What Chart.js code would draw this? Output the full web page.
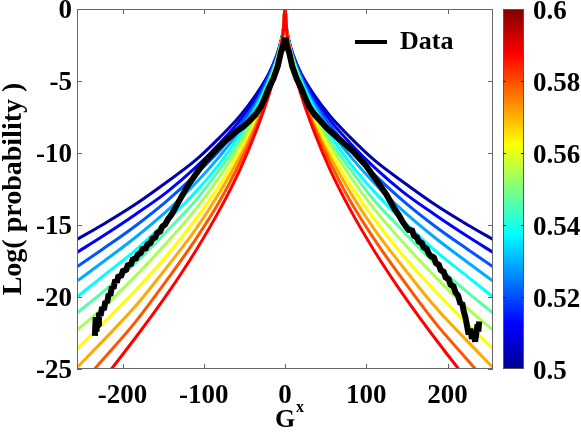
<!DOCTYPE html>
<html><head><meta charset="utf-8">
<script src="https://cdn.jsdelivr.net/npm/chart.js@4.4.1/dist/chart.umd.min.js"></script>
<style>html,body{margin:0;padding:0;background:#fff;}</style>
</head><body>
<canvas id="c" width="581" height="436"></canvas>
<script>
// ---- data ----
const gx = [0, 2, 5, 10, 20, 35, 55, 80, 110, 145, 185, 225, 256];   // |G^x| sample positions (curves are symmetric)
const alphaLabels = ['0.50','0.51','0.52','0.53','0.54','0.55','0.56','0.57','0.58','0.59','0.60'];
const fit050 = [0, -1.4, -2.2, -3.2, -4.5, -5.9, -7.4, -8.9, -10.5, -12.0, -13.6, -15.0, -16.0];
const fit051 = [0, -1.4, -2.3, -3.2, -4.6, -6.1, -7.7, -9.3, -11.0, -12.7, -14.3, -15.8, -16.9];
const fit052 = [0, -1.4, -2.3, -3.3, -4.7, -6.4, -8.0, -9.8, -11.5, -13.3, -15.1, -16.7, -17.9];
const fit053 = [0, -1.4, -2.3, -3.4, -4.9, -6.6, -8.4, -10.2, -12.1, -14.0, -15.9, -17.6, -18.9];
const fit054 = [0, -1.5, -2.4, -3.5, -5.0, -6.8, -8.7, -10.7, -12.7, -14.7, -16.8, -18.6, -20.0];
const fit055 = [0, -1.5, -2.4, -3.5, -5.2, -7.1, -9.1, -11.1, -13.3, -15.4, -17.7, -19.7, -21.1];
const fit056 = [0, -1.5, -2.5, -3.6, -5.4, -7.3, -9.4, -11.6, -13.9, -16.2, -18.6, -20.8, -22.3];
const fit057 = [0, -1.5, -2.5, -3.7, -5.5, -7.6, -9.8, -12.2, -14.6, -17.1, -19.6, -21.9, -23.6];
const fit058 = [0, -1.5, -2.5, -3.8, -5.7, -7.9, -10.2, -12.7, -15.3, -17.9, -20.7, -23.1, -24.9];
const fit059 = [0, -1.5, -2.6, -3.9, -5.9, -8.1, -10.6, -13.3, -16.0, -18.8, -21.8, -24.4, -26.4];
const fit060 = [0, -1.5, -2.6, -4.0, -6.0, -8.4, -11.1, -13.9, -16.8, -19.8, -22.9, -25.8, -27.9];
const curveColors = ['rgb(0,0,170)','rgb(0,0,255)','rgb(0,85,255)','rgb(0,170,255)','rgb(0,255,255)',
  'rgb(85,255,170)','rgb(170,255,85)','rgb(255,255,0)','rgb(255,170,0)','rgb(255,85,0)','rgb(255,0,0)'];

const dataX = [-234,-233,-232,-231,-230,-229,-227,-225,-223,-221,-219,-217,-215,-213,-211,-209,-207,-205,-202,-199,-196,-193,-190,-187,-184,-181,-178,-175,-172,-169,-166,-163,-160,-157,-154,-151,-148,-144,-140,-136,-132,-128,-124,-120,-115,-110,-105,-100,-92,-84,-76,-68,-60,-52,-44,-36,-30,-25,-20,-14,-9,-5,-3,-1,0,
  1,3,5,9,14,20,25,30,36,44,52,60,68,76,84,92,100,105,110,115,120,125,130,135,140,145,150,153,156,159,162,165,168,171,174,177,180,183,186,189,192,195,198,201,204,207,210,213,216,218,220,222,224,226,228,230,232,234,236,237,238,239];
const dataY = [-22.7,-21.4,-22.4,-21.6,-22.0,-21.1,-21.3,-20.7,-20.9,-20.3,-20.4,-19.8,-19.9,-19.3,-19.4,-18.8,-19.0,-18.5,-18.6,-18.1,-18.2,-17.7,-17.8,-17.3,-17.4,-17.0,-17.0,-16.6,-16.7,-16.3,-16.3,-15.9,-15.9,-15.5,-15.5,-15.1,-15.0,-14.6,-14.3,-13.9,-13.5,-13.1,-12.7,-12.3,-11.9,-11.5,-11.1,-10.7,-10.2,-9.7,-9.3,-8.9,-8.5,-8.2,-7.8,-7.3,-6.8,-6.2,-5.5,-4.8,-4.0,-3.0,-2.7,-2.3,-2.0,
  -2.3,-2.7,-3.0,-4.0,-4.8,-5.5,-6.2,-6.8,-7.3,-7.8,-8.3,-8.7,-9.1,-9.5,-9.9,-10.4,-10.9,-11.3,-11.7,-12.1,-12.5,-12.9,-13.4,-13.9,-14.3,-14.8,-15.2,-15.4,-15.3,-15.8,-15.8,-16.2,-16.2,-16.6,-16.6,-17.0,-17.2,-17.2,-17.7,-17.7,-18.2,-18.2,-18.7,-18.7,-19.2,-19.2,-19.7,-19.9,-20.5,-20.4,-21.0,-21.4,-22.0,-22.6,-22.2,-22.9,-22.5,-23.1,-22.3,-21.9,-22.4,-21.7];

const xTicks = [-200, -100, 0, 100, 200];
const yTicks = [0, -5, -10, -15, -20, -25];
const cbTicks = [0.5, 0.52, 0.54, 0.56, 0.58, 0.6];

// ---- build datasets ----
const fits = [fit050, fit051, fit052, fit053, fit054, fit055, fit056, fit057, fit058, fit059, fit060];
function mirror(vals) {
  const pts = [];
  for (let i = gx.length - 1; i >= 1; i--) pts.push({x: -gx[i], y: vals[i]});
  for (let i = 0; i < gx.length; i++) pts.push({x: gx[i], y: vals[i]});
  return pts;
}
const datasets = [{
  label: 'Data',
  data: dataX.map((x, i) => ({x, y: dataY[i]})),
  borderColor: '#000', backgroundColor: '#000', borderWidth: 6,
  pointRadius: 0, pointHoverRadius: 0, tension: 0, borderJoinStyle: 'bevel', order: 0
}];
fits.forEach((f, k) => datasets.push({
  label: 'alpha ' + alphaLabels[k],
  data: mirror(f),
  borderColor: curveColors[k], backgroundColor: curveColors[k], borderWidth: 3,
  pointRadius: 0, pointHoverRadius: 0, cubicInterpolationMode: 'monotone', order: 11 - k
}));

const FONT = 'Liberation Serif';
const jetStops = [[0,'rgb(0,0,143)'],[0.125,'rgb(0,0,255)'],[0.375,'rgb(0,255,255)'],[0.625,'rgb(255,255,0)'],[0.875,'rgb(255,0,0)'],[1,'rgb(128,0,0)']];

const decor = {
  id: 'decor',
  afterLayout(chart) {
    const lg = chart.legend;
    if (!lg) return;
    const w = lg.width, h = lg.height;
    lg.left = 345; lg.top = 19; lg.right = lg.left + w; lg.bottom = lg.top + h;
  },
  afterDraw(chart) {
    const {ctx, chartArea: a, scales} = chart;
    ctx.save();
    const line = (x1, y1, x2, y2) => { ctx.beginPath(); ctx.moveTo(x1, y1); ctx.lineTo(x2, y2); ctx.stroke(); };
    ctx.strokeStyle = '#666'; ctx.lineWidth = 1;
    ctx.strokeRect(a.left + 0.5, a.top + 0.5, a.right - a.left - 1, a.bottom - a.top - 1);
    xTicks.forEach(v => { const p = Math.round(scales.x.getPixelForValue(v)) + 0.5; line(p, a.bottom, p, a.bottom - 5); line(p, a.top, p, a.top + 5); });
    yTicks.forEach(v => { const p = Math.round(scales.y.getPixelForValue(v)) + 0.5; line(a.left, p, a.left + 5, p); line(a.right, p, a.right - 5, p); });
    // colour bar
    const y2 = scales.y2;
    const top = Math.round(y2.getPixelForValue(0.6)), bot = Math.round(y2.getPixelForValue(0.5));
    const cx = a.right + 10, cw = 21;
    const g = ctx.createLinearGradient(0, bot, 0, top);
    jetStops.forEach(s => g.addColorStop(s[0], s[1]));
    ctx.fillStyle = g;
    ctx.fillRect(cx, top, cw, bot - top);
    ctx.strokeStyle = '#555';
    ctx.strokeRect(cx + 0.5, top + 0.5, cw - 1, bot - top - 1);
    ctx.strokeStyle = '#222';
    cbTicks.slice(1, -1).forEach(v => { const p = Math.round(y2.getPixelForValue(v)) + 0.5; line(cx, p, cx + 3, p); line(cx + cw, p, cx + cw - 3, p); });
    // superscript of the x title
    ctx.font = 'bold 26px "' + FONT + '"';
    const gw = ctx.measureText('G').width;
    ctx.font = 'bold 16px "' + FONT + '"';
    ctx.fillStyle = '#000'; ctx.textBaseline = 'alphabetic'; ctx.textAlign = 'left';
    ctx.fillText('x', (a.left + a.right) / 2 + gw / 2 + 1, 412);
    ctx.restore();
  }
};

new Chart(document.getElementById('c'), {
  type: 'line',
  data: {datasets},
  plugins: [decor],
  options: {
    responsive: false, animation: false, devicePixelRatio: 1,
    layout: {padding: {top: 9, left: 0, right: 0, bottom: 0}},
    plugins: {
      tooltip: {enabled: false},
      legend: {
        position: 'chartArea', align: 'start',
        labels: {
          color: '#000', font: {family: FONT, size: 26, weight: 'bold'},
          usePointStyle: true, pointStyle: 'line', pointStyleWidth: 32, padding: 10,
          filter: item => item.text === 'Data',
          generateLabels: chart => Chart.defaults.plugins.legend.labels.generateLabels(chart).map(it => Object.assign(it, {lineWidth: 4, strokeStyle: '#000', pointStyle: 'line'}))
        }
      }
    },
    scales: {
      x: {
        type: 'linear', position: 'bottom', min: -256, max: 256,
        grid: {display: false, drawTicks: false}, border: {display: false},
        afterBuildTicks: s => { s.ticks = xTicks.map(v => ({value: v})); },
        afterFit: s => { s.height = 67; s.paddingLeft = 0; s.paddingRight = 0; },
        ticks: {color: '#000', font: {family: FONT, size: 27, weight: 'bold'}, padding: 11, maxRotation: 0, autoSkip: false},
        title: {display: true, text: 'G', color: '#000', font: {family: FONT, size: 26, weight: 'bold'}, padding: {top: 0, bottom: 0}}
      },
      y: {
        type: 'linear', position: 'left', min: -25, max: 0,
        grid: {display: false, drawTicks: false}, border: {display: false},
        afterBuildTicks: s => { s.ticks = yTicks.map(v => ({value: v})); },
        afterFit: s => { s.width = 77; s.paddingTop = 0; s.paddingBottom = 0; },
        ticks: {color: '#000', font: {family: FONT, size: 27, weight: 'bold'}, padding: 5, autoSkip: false, labelOffset: 2},
        title: {display: true, text: 'Log( probability )', color: '#000', font: {family: FONT, size: 28, weight: 'bold', lineHeight: 1}, padding: {top: 0, bottom: 0}}
      },
      y2: {
        type: 'linear', position: 'right', min: 0.5, max: 0.6,
        grid: {display: false, drawTicks: false}, border: {display: false},
        afterBuildTicks: s => { s.ticks = cbTicks.map(v => ({value: v})); },
        afterFit: s => { s.width = 88; s.paddingTop = 0; s.paddingBottom = 0; },
        ticks: {color: '#000', font: {family: FONT, size: 27, weight: 'bold'}, padding: 40, autoSkip: false, labelOffset: 3,
          callback: v => String(+Number(v).toFixed(2))}
      }
    }
  }
});
</script>
</body></html>
